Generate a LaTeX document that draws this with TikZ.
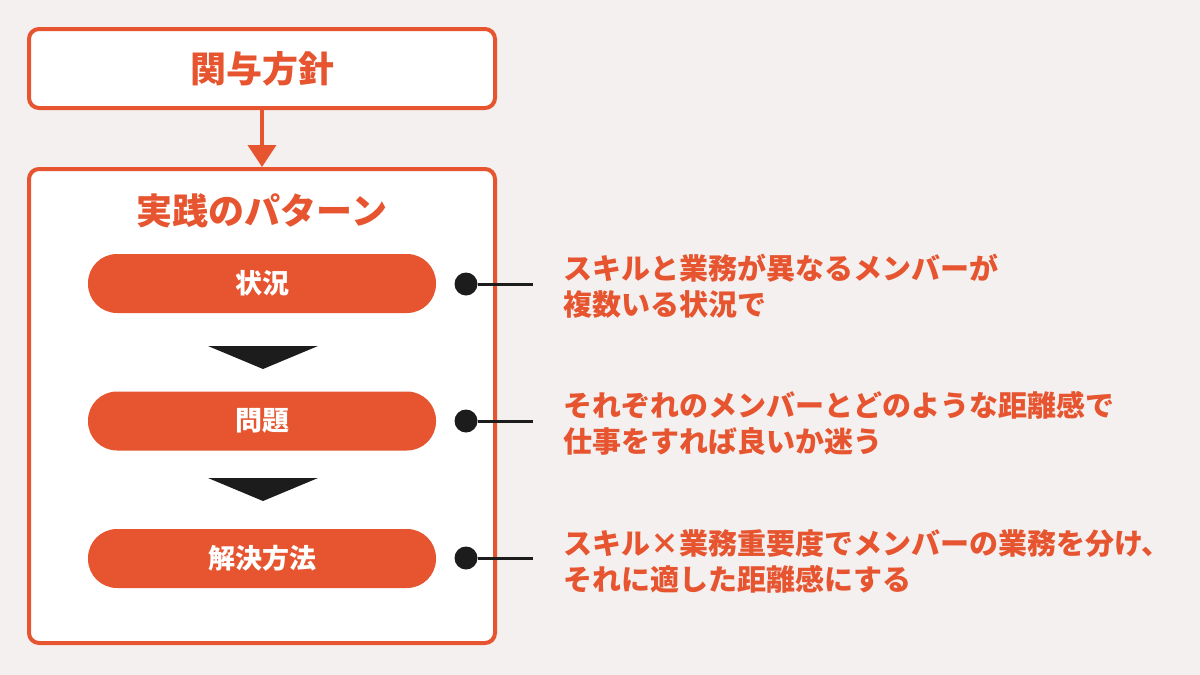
\documentclass[tikz,border=0pt]{standalone}
\usepackage{fontspec}
\setmainfont{Noto Sans CJK JP}
\usetikzlibrary{positioning,arrows.meta}

\definecolor{accent}{HTML}{E65530}
\definecolor{paper}{HTML}{F4F0EF}
\definecolor{ink}{HTML}{1C1C1C}

\tikzset{
  frame/.style={draw=accent, line width=4pt, fill=white, rounded corners=10pt},
  heading/.style={text=accent, font=\bfseries\fontsize{36}{40}\selectfont},
  pill/.style={fill=accent, text=white, rounded corners=29pt, minimum width=348pt,
    minimum height=59pt, font=\bfseries\fontsize{27}{30}\selectfont},
  dot/.style={circle, fill=ink, inner sep=0pt, minimum size=23pt},
  note/.style={text=accent, anchor=west, align=left, inner sep=0pt,
    font=\bfseries\fontsize{29}{36}\selectfont},
}

\begin{document}
\begin{tikzpicture}[x=1pt, y=-1pt]
  \fill[paper] (0,0) rectangle (1200,675);
  \useasboundingbox (0,0) rectangle (1200,675);

  % policy box and arrow down to the pattern box
  \node[frame, heading, minimum width=466pt, minimum height=79pt] (policy) at (262,68.5) {関与方針};
  \node[frame, minimum width=466pt, minimum height=474pt] (pattern) at (262,406) {};
  \draw[accent, line width=4pt, -{Triangle[width=28pt,length=22pt]}] (policy.south) -- (pattern.north);
  \node[heading] (patterntitle) at (262,211) {実践のパターン};

  % steps
  \node[pill] (situation) at (262,283.5) {状況};
  \node[pill] (problem) at (262,421) {問題};
  \node[pill] (solution) at (262,558.5) {解決方法};
  \foreach \ty in {346,478}
    \fill[ink] (208,\ty) -- (318,\ty) -- (263,\ty+23) -- cycle;

  % notes on the right
  \foreach \name/\yy in {situation/284, problem/421, solution/558} {
    \node[dot] (\name dot) at (466,\yy) {};
    \coordinate (\name end) at (533,\yy);
    \draw[ink, line width=3pt] (\name dot) -- (\name end);
  }
  \node[note] (situationnote) at (563,286) {スキルと業務が異なるメンバーが\\複数いる状況で};
  \node[note] (problemnote) at (563,423.5) {それぞれのメンバーとどのような距離感で\\仕事をすれば良いか迷う};
  \node[note] (solutionnote) at (563,561) {スキル×業務重要度でメンバーの業務を分け、\\それに適した距離感にする};
\end{tikzpicture}
\end{document}
